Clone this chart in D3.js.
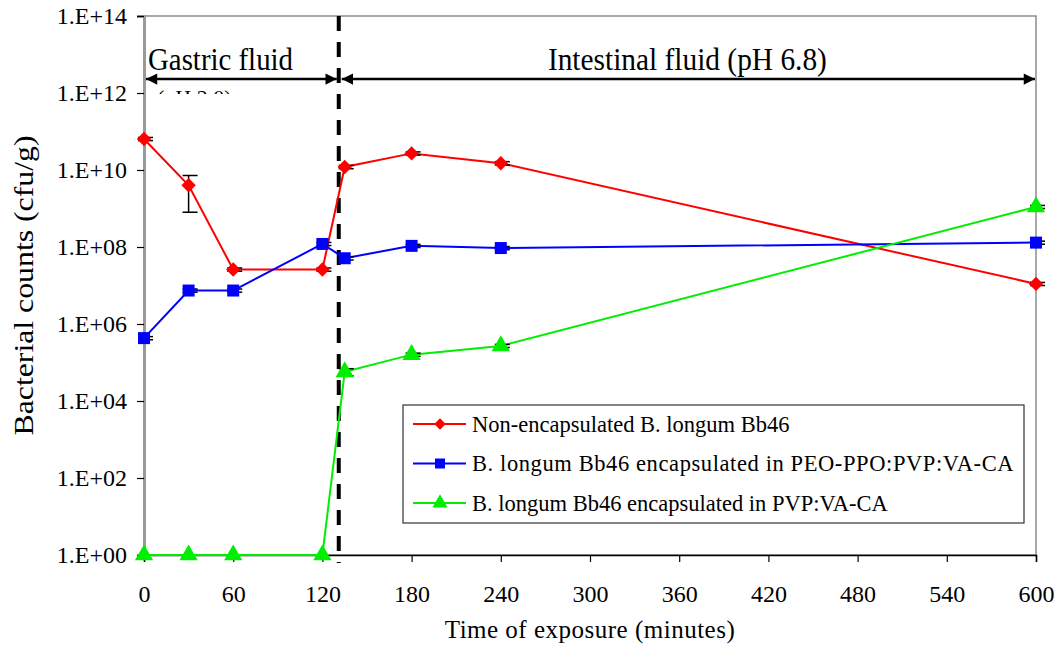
<!DOCTYPE html>
<html>
<head>
<meta charset="utf-8">
<script src="https://cdn.jsdelivr.net/npm/d3@7"></script>
<style>
  body { margin: 0; background: #fff; }
</style>
</head>
<body>
<div id="chart" style="width:1060px;height:654px"></div>
<script>
// sampling times (minutes)
const times = [0, 30, 60, 120, 135, 180, 240, 600];

// bacterial counts (cfu/g)
const nonEncap   = [6.4e10, 4.0e9, 2.6e7, 2.6e7, 1.2e10, 2.7e10, 1.5e10, 1.1e7];
const nonEncapSd = [6e9, 3.2e9, 2.5e6, 2.5e6, 1.2e9, 2.5e9, 1.5e9, 1e6];
const peoPvp     = [4.3e5, 7.4e6, 7.4e6, 1.2e8, 5.1e7, 1.07e8, 9.4e7, 1.3e8];
const peoPvpSd   = [4e4, 7e5, 7e5, 1.1e7, 5e6, 1e7, 9e6, 1.2e7];
const pvpOnly    = [1, 1, 1, 1, 5.7e4, 1.6e5, 2.7e5, 1.1e9];
const pvpOnlySd  = [0, 0, 0, 0, 1.2e4, 1.5e4, 2.5e4, 1e8];

const seriesNames = [
  "Non-encapsulated B. longum Bb46",
  "B. longum Bb46 encapsulated in PEO-PPO:PVP:VA-CA",
  "B. longum Bb46 encapsulated in PVP:VA-CA"
];

const xTicks = [0, 60, 120, 180, 240, 300, 360, 420, 480, 540, 600];
const yTicks = [1e0, 1e2, 1e4, 1e6, 1e8, 1e10, 1e12, 1e14];

const phaseBoundary = 131;
const phaseLabels = ["Gastric fluid", "Intestinal fluid (pH 6.8)", "(pH 2.0)"];

const series = [
  {name: seriesNames[0], values: nonEncap, sd: nonEncapSd, color: "#ff0000", shape: "diamond"},
  {name: seriesNames[1], values: peoPvp, sd: peoPvpSd, color: "#0000ff", shape: "square"},
  {name: seriesNames[2], values: pvpOnly, sd: pvpOnlySd, color: "#00ee00", shape: "triangle"}
];

const FONT = "Liberation Serif";

const svg = d3.select("#chart").append("svg")
    .attr("width", 1060).attr("height", 654);

const margin = {top: 16, right: 24, bottom: 99, left: 144},
      width = 1060 - margin.left - margin.right,
      height = 654 - margin.top - margin.bottom;

const g = svg.append("g")
    .attr("transform", "translate(" + margin.left + "," + margin.top + ")");

const x = d3.scaleLinear().domain([0, 600]).range([0, width]);
const y = d3.scaleLog().domain([1, 1e14]).range([height, 0]);

// symbol helper
function symbolPath(shape, big) {
  if (shape === "diamond") return d3.symbol(d3.symbolSquare, big ? 104 : 64)();
  if (shape === "square") return d3.symbol(d3.symbolSquare, big ? 144 : 100)();
  return d3.symbol(d3.symbolTriangle, big ? 145 : 100)();
}
function symbolRotate(shape) { return shape === "diamond" ? " rotate(45)" : ""; }

// frame
g.append("rect")
    .attr("width", width).attr("height", height)
    .attr("fill", "none").attr("stroke", "#8c8c8c").attr("stroke-width", 1.5);

// Y axis
const fmt = d => "1.E+" + String(Math.round(Math.log10(d))).padStart(2, "0");
const yAxis = g.append("g")
    .call(d3.axisLeft(y).tickValues(yTicks).tickFormat(fmt).tickSize(7).tickPadding(10));
yAxis.select(".domain").attr("stroke", "#999").attr("stroke-width", 3);
yAxis.selectAll(".tick line").attr("stroke", "#000").attr("stroke-width", 1.2);
yAxis.selectAll("text").style("font-size", "24px").attr("fill", "#000")
    .style("font-family", FONT);

// X axis
const xAxis = g.append("g")
    .attr("transform", "translate(0," + height + ")")
    .call(d3.axisBottom(x).tickValues(xTicks).tickSize(7).tickPadding(23));
xAxis.select(".domain").attr("stroke", "#000").attr("stroke-width", 1.5);
xAxis.selectAll(".tick line").attr("stroke", "#000").attr("stroke-width", 1.2);
xAxis.selectAll("text").style("font-size", "24px").attr("fill", "#000")
    .style("font-family", FONT);

// axis titles
svg.append("text")
    .attr("x", margin.left + width / 2).attr("y", 638)
    .attr("text-anchor", "middle")
    .style("font-family", FONT)
    .style("font-size", "25px").style("letter-spacing", "0.5px")
    .text("Time of exposure (minutes)");

svg.append("text")
    .attr("transform", "translate(33," + (margin.top + height / 2) + ") rotate(-90)")
    .attr("text-anchor", "middle")
    .attr("textLength", 300).attr("lengthAdjust", "spacingAndGlyphs")
    .style("font-family", FONT)
    .style("font-size", "27px")
    .text("Bacterial counts (cfu/g)");

// phase divider
g.append("line")
    .attr("x1", x(phaseBoundary)).attr("x2", x(phaseBoundary))
    .attr("y1", 0).attr("y2", height + 8)
    .attr("stroke", "#000").attr("stroke-width", 4)
    .attr("stroke-dasharray", "15,11");

// arrows
const defs = svg.append("defs");
["start", "end"].forEach(k => {
  defs.append("marker")
      .attr("id", "arrow-" + k)
      .attr("viewBox", "0 0 10 10").attr("refX", k === "end" ? 10 : 0).attr("refY", 5)
      .attr("markerWidth", 5).attr("markerHeight", 4.5)
      .attr("markerUnits", "strokeWidth").attr("orient", "auto")
      .append("path")
      .attr("d", k === "end" ? "M0,0L10,5L0,10Z" : "M10,0L0,5L10,10Z")
      .attr("fill", "#000");
});
defs.append("clipPath").attr("id", "clip-ph")
    .append("rect").attr("x", 0).attr("y", 0).attr("width", 300).attr("height", 94);

const arrowY = 63;
[[0, phaseBoundary, 2, -2], [phaseBoundary, 600, 3, -1]].forEach(([a, b, pa, pb]) => {
  g.append("line")
      .attr("x1", x(a) + pa).attr("x2", x(b) + pb)
      .attr("y1", arrowY).attr("y2", arrowY)
      .attr("stroke", "#000").attr("stroke-width", 2.5)
      .attr("marker-start", "url(#arrow-start)")
      .attr("marker-end", "url(#arrow-end)");
});

svg.append("text")
    .attr("x", margin.left + 4).attr("y", 70)
    .attr("textLength", 145).attr("lengthAdjust", "spacingAndGlyphs")
    .style("font-family", FONT)
    .style("font-size", "32px")
    .text(phaseLabels[0]);
svg.append("text")
    .attr("x", margin.left + (x(phaseBoundary) + width) / 2).attr("y", 70)
    .attr("text-anchor", "middle")
    .attr("textLength", 279).attr("lengthAdjust", "spacingAndGlyphs")
    .style("font-family", FONT)
    .style("font-size", "32px")
    .text(phaseLabels[1]);
svg.append("text")
    .attr("clip-path", "url(#clip-ph)")
    .attr("x", 157).attr("y", 105)
    .style("font-family", FONT)
    .style("font-size", "22px")
    .text(phaseLabels[2]);

// lines
const line = d3.line().x((d, i) => x(times[i])).y(d => y(d));
series.forEach(s => {
  g.append("path")
      .datum(s.values)
      .attr("fill", "none")
      .attr("stroke", s.color)
      .attr("stroke-width", 2)
      .attr("d", line);
});

// error bars
series.forEach(s => {
  const eb = g.append("g").attr("stroke", "#000").attr("stroke-width", 1.5);
  s.values.forEach((v, i) => {
    const e = s.sd[i];
    if (!e) return;
    const cx = x(times[i]);
    const hi = y(v + e), lo = y(Math.max(v - e, 1));
    eb.append("line").attr("x1", cx).attr("x2", cx).attr("y1", hi).attr("y2", lo);
    eb.append("line").attr("x1", cx - 6).attr("x2", cx + 9).attr("y1", hi).attr("y2", hi);
    eb.append("line").attr("x1", cx - 6).attr("x2", cx + 9).attr("y1", lo).attr("y2", lo);
  });
});

// markers
series.forEach(s => {
  g.append("g").selectAll("path")
      .data(s.values)
      .join("path")
      .attr("transform", (d, i) => "translate(" + x(times[i]) + "," + y(d) + ")" + symbolRotate(s.shape))
      .attr("d", symbolPath(s.shape, true))
      .attr("fill", s.color);
});

// legend
const legend = svg.append("g").attr("transform", "translate(403,405)");
legend.append("rect")
    .attr("width", 621).attr("height", 118)
    .attr("fill", "#fff").attr("stroke", "#333").attr("stroke-width", 1.2);
series.forEach((s, i) => {
  const row = legend.append("g").attr("transform", "translate(0," + (19 + i * 39.5) + ")");
  row.append("line").attr("x1", 10).attr("x2", 63)
      .attr("stroke", s.color).attr("stroke-width", 2);
  row.append("path")
      .attr("transform", "translate(37,0)" + symbolRotate(s.shape))
      .attr("d", symbolPath(s.shape, false))
      .attr("fill", s.color);
  row.append("text")
      .attr("x", 69).attr("dy", "0.35em")
      .style("font-family", FONT)
      .style("font-size", "22.5px")
      .style("letter-spacing", i === 1 ? "0.6px" : "0px")
      .text(s.name);
});
</script>
</body>
</html>
